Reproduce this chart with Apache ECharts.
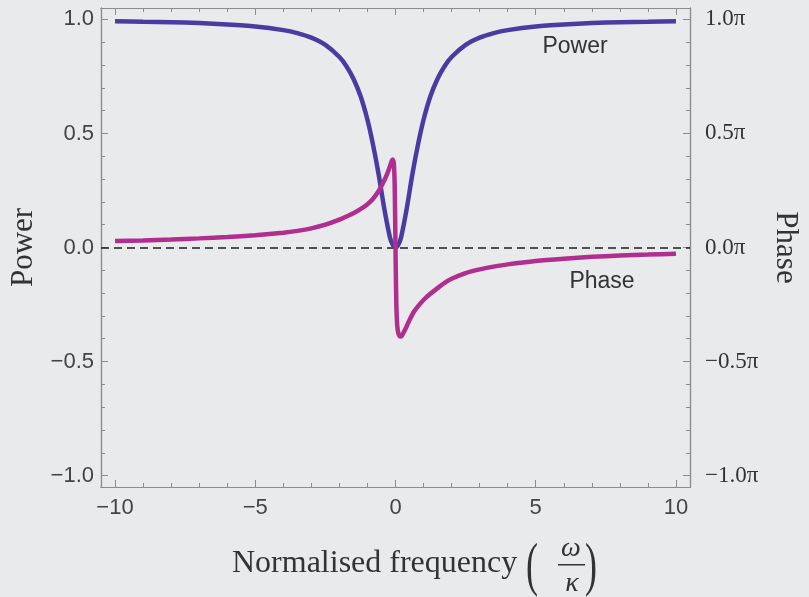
<!DOCTYPE html>
<html><head><meta charset="utf-8">
<script src="https://cdn.jsdelivr.net/npm/echarts@6.0.0/dist/echarts.min.js"></script>
<style>html,body{margin:0;padding:0;background:#e9eaec}#c{width:809px;height:597px}</style>
</head><body><div id="c"></div>
<script>
// Normalised frequency samples (omega / kappa)
const powerX = [-10,-9,-8,-7,-6,-5,-4,-3.5,-3,-2.5,-2,-1.75,-1.5,-1.25,-1,-0.8,-0.6,-0.4,-0.2,-0.1,0,0.1,0.2,0.4,0.6,0.8,1,1.25,1.5,1.75,2,2.5,3,3.5,4,5,6,7,8,9,10];
const powerY = [0.992,0.990,0.988,0.984,0.978,0.969,0.953,0.940,0.920,0.888,0.835,0.795,0.740,0.665,0.560,0.450,0.320,0.170,0.045,0.012,0.000,0.012,0.045,0.170,0.320,0.450,0.560,0.665,0.740,0.795,0.835,0.888,0.920,0.940,0.953,0.969,0.978,0.984,0.988,0.990,0.992];
const phaseX = [-10,-9,-8,-7,-6,-5,-4,-3.5,-3,-2.5,-2,-1.75,-1.5,-1.25,-1,-0.8,-0.6,-0.45,-0.3,-0.2,-0.14,-0.1,-0.06,-0.03,-0.01,0,0.01,0.03,0.06,0.1,0.16,0.22,0.3,0.4,0.5,0.65,0.8,1,1.25,1.5,1.75,2,2.5,3,3.5,4,5,6,7,8,9,10];
// phase in units of pi
const phaseY = [0.028,0.031,0.035,0.040,0.046,0.054,0.065,0.073,0.084,0.100,0.122,0.136,0.150,0.168,0.190,0.214,0.248,0.282,0.322,0.355,0.378,0.386,0.370,0.280,0.100,0.000,-0.100,-0.250,-0.340,-0.375,-0.390,-0.388,-0.370,-0.345,-0.318,-0.283,-0.258,-0.230,-0.202,-0.178,-0.155,-0.137,-0.112,-0.096,-0.084,-0.074,-0.059,-0.049,-0.041,-0.035,-0.031,-0.027];
const xMajorTicks = [-10,-5,0,5,10];
const xMinorTicks = [-9,-8,-7,-6,-4,-3,-2,-1,1,2,3,4,6,7,8,9];
const yMajorTicks = [-1,-0.5,0,0.5,1];
const yMinorTicks = [-0.9,-0.8,-0.7,-0.6,-0.4,-0.3,-0.2,-0.1,0.1,0.2,0.3,0.4,0.6,0.7,0.8,0.9];

const AX = '#8c8c8c';
const minus = v => (v < 0 ? '\u2212' : '');
function xAx(pos, ticks, len, labels) {
  return {
    type: 'value', position: pos, min: -10.5, max: 10.5,
    axisLine: {show: true, onZero: false, lineStyle: {color: AX, width: 1.2}},
    axisTick: {show: true, inside: true, length: len, customValues: ticks, lineStyle: {color: AX, width: 1}},
    axisLabel: labels ? {show: true, customValues: ticks, margin: 10, color: '#444',
      fontFamily: 'Liberation Sans', fontSize: 22,
      formatter: v => minus(v) + Math.abs(v)} : {show: false},
    splitLine: {show: false}
  };
}
function yAx(pos, ticks, len, labels, fmt) {
  return {
    type: 'value', position: pos, min: -1.05, max: 1.05,
    axisLine: {show: true, onZero: false, lineStyle: {color: AX, width: 1.2}},
    axisTick: {show: true, inside: true, length: len, customValues: ticks, lineStyle: {color: AX, width: 1}},
    axisLabel: labels ? Object.assign({show: true, customValues: ticks}, labels, {formatter: fmt}) : {show: false},
    splitLine: {show: false}
  };
}

const yLeft = yAx('left', yMajorTicks, 7, {margin: 7, color: '#444', fontFamily: 'Liberation Sans', fontSize: 22},
  v => minus(v) + Math.abs(v).toFixed(1));
yLeft.name = 'Power'; yLeft.nameLocation = 'middle'; yLeft.nameRotate = 90; yLeft.nameGap = 62;
yLeft.nameTextStyle = {fontFamily: 'Liberation Serif', fontSize: 31, color: '#333'};

const yRight = yAx('right', yMajorTicks, 7, {margin: 15, color: '#333', fontFamily: 'Liberation Serif', fontSize: 23},
  v => minus(v) + Math.abs(v).toFixed(1) + '\u03c0');
yRight.name = 'Phase'; yRight.nameLocation = 'middle'; yRight.nameRotate = -90; yRight.nameGap = 80;
yRight.nameTextStyle = {fontFamily: 'Liberation Serif', fontSize: 31, color: '#333'};

const chart = echarts.init(document.getElementById('c'), null, {renderer: 'canvas'});
chart.setOption({
  backgroundColor: '#e9eaec',
  animation: false,
  grid: {left: 97, right: 115, top: 8, bottom: 110, containLabel: false},
  xAxis: [xAx('bottom', xMajorTicks, 7, true), xAx('bottom', xMinorTicks, 4, false),
          xAx('top', xMajorTicks, 7, false), xAx('top', xMinorTicks, 4, false)],
  yAxis: [yLeft, yAx('left', yMinorTicks, 4, null), yRight, yAx('right', yMinorTicks, 4, null)],
  series: [
    {
      type: 'line', name: 'Power', xAxisIndex: 0, yAxisIndex: 0, showSymbol: false, z: 3,
      smooth: 0.25,
      data: powerX.map((x, i) => [x, powerY[i]]),
      lineStyle: {color: '#4a3ba3', width: 4.5}, itemStyle: {color: '#4a3ba3'},
      markLine: {silent: true, symbol: 'none', label: {show: false}, z: 2,
        lineStyle: {color: '#1e1e1e', type: [8, 5], width: 1.6},
        data: [{yAxis: 0}]}
    },
    {
      type: 'line', name: 'Phase', xAxisIndex: 0, yAxisIndex: 2, showSymbol: false, z: 4,
      smooth: 0.2,
      data: phaseX.map((x, i) => [x, phaseY[i]]),
      lineStyle: {color: '#b02f8e', width: 4.5}, itemStyle: {color: '#b02f8e'}
    }
  ],
  graphic: [
    {type: 'text', x: 575, y: 47, style: {text: 'Power', font: '23px "Liberation Sans"', fill: '#333', align: 'center', verticalAlign: 'middle'}},
    {type: 'text', x: 602, y: 282, style: {text: 'Phase', font: '23px "Liberation Sans"', fill: '#333', align: 'center', verticalAlign: 'middle'}},
    {type: 'text', x: 232, y: 564, style: {text: 'Normalised frequency', font: '32px "Liberation Serif"', fill: '#333', align: 'left', verticalAlign: 'middle'}},
    {type: 'text', x: 532, y: 568, scaleY: 1.65, style: {text: '(', font: '36px "Liberation Serif"', fill: '#333', align: 'center', verticalAlign: 'middle'}},
    {type: 'text', x: 571, y: 549, style: {text: '\u03c9', font: 'italic 28px "Liberation Serif"', fill: '#333', align: 'center', verticalAlign: 'middle'}},
    {type: 'rect', shape: {x: 558, y: 564, width: 27, height: 1.5}, style: {fill: '#333'}},
    {type: 'text', x: 572, y: 584, style: {text: '\u03ba', font: 'italic 28px "Liberation Serif"', fill: '#333', align: 'center', verticalAlign: 'middle'}},
    {type: 'text', x: 591, y: 568, scaleY: 1.65, style: {text: ')', font: '36px "Liberation Serif"', fill: '#333', align: 'center', verticalAlign: 'middle'}}
  ]
});
</script></body></html>
